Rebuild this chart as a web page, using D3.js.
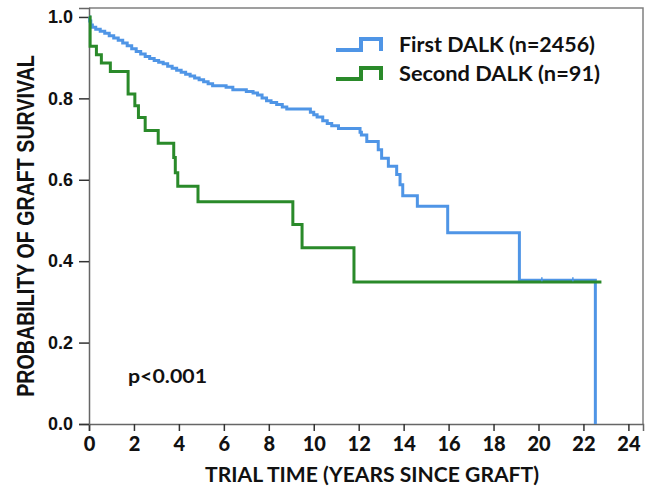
<!DOCTYPE html>
<html>
<head>
<meta charset="utf-8">
<script src="https://cdn.jsdelivr.net/npm/d3@7"></script>
<style>
  body { margin: 0; background: #fff; }
  svg { display: block; }
</style>
</head>
<body>
<svg id="chart" width="646" height="487"></svg>
<script>
// Kaplan-Meier steps: [years, survival]
const firstDalk = [
  [0, 1.0], [0.03, 0.99], [0.08, 0.98], [0.15, 0.975], [0.3, 0.97], [0.5, 0.965],
  [0.7, 0.96], [0.9, 0.954], [1.1, 0.948], [1.3, 0.943], [1.5, 0.936], [1.7, 0.929],
  [1.9, 0.922], [2.1, 0.915], [2.3, 0.909], [2.5, 0.903], [2.7, 0.898], [2.9, 0.893],
  [3.1, 0.889], [3.3, 0.885], [3.5, 0.879], [3.7, 0.874], [3.9, 0.869], [4.1, 0.864],
  [4.3, 0.859], [4.5, 0.855], [4.7, 0.85], [4.9, 0.846], [5.1, 0.841], [5.3, 0.836],
  [5.5, 0.831], [6.1, 0.827], [6.4, 0.821], [7.0, 0.817], [7.3, 0.813], [7.5, 0.808],
  [7.7, 0.801], [7.9, 0.794], [8.1, 0.79], [8.35, 0.785], [8.6, 0.779], [8.8, 0.774],
  [9.85, 0.766], [10.0, 0.76], [10.15, 0.754], [10.4, 0.745], [10.6, 0.738], [10.8, 0.733],
  [11.1, 0.726], [12.06, 0.717], [12.12, 0.71], [12.36, 0.694], [12.87, 0.674], [13.02, 0.653],
  [13.32, 0.633], [13.69, 0.613], [13.84, 0.588], [13.96, 0.561], [14.61, 0.535], [15.96, 0.47],
  [19.15, 0.353], [22.53, 0]
];
const secondDalk = [
  [0, 1.0], [0.05, 0.928], [0.33, 0.907], [0.55, 0.887], [0.95, 0.866], [1.74, 0.811],
  [2.04, 0.782], [2.2, 0.753], [2.5, 0.721], [3.08, 0.690], [3.77, 0.655], [3.84, 0.617],
  [3.95, 0.584], [4.85, 0.546], [9.07, 0.490], [9.48, 0.433], [11.79, 0.349], [22.8, 0.349]
];
const firstCensor = [[20.15, 0.353], [21.53, 0.353]];

const seriesNames = ["First DALK (n=2456)", "Second DALK (n=91)"];
const seriesColors = ["#4f95e6", "#2a8a2a"];
const xTicks = [0, 2, 4, 6, 8, 10, 12, 14, 16, 18, 20, 22, 24];
const yTicks = [0, 0.2, 0.4, 0.6, 0.8, 1.0];
const pText = "p<0.001";

const svg = d3.select("#chart");
const margin = { left: 89, top: 8, right: 3, bottom: 63 };
const W = 646, H = 487;

const x = d3.scaleLinear().domain([0, 24.65]).range([margin.left, W - margin.right]);
const y = d3.scaleLinear().domain([0, 1.022]).range([H - margin.bottom, margin.top]);

// frame (top and right borders)
svg.append("path")
  .attr("d", `M${x(0)},${y(1.022)} H${x(24.65)} V${y(0)}`)
  .attr("fill", "none")
  .attr("stroke", "#808080")
  .attr("stroke-width", 1.5);

// x axis
const xAxis = svg.append("g").attr("transform", `translate(0,${y(0)})`)
  .call(d3.axisBottom(x).tickValues(xTicks).tickSize(7).tickPadding(6).tickFormat(d3.format("d")));
xAxis.select(".domain").attr("stroke", "#666").attr("stroke-width", 1.5);
xAxis.selectAll(".tick line").attr("stroke", "#333").attr("stroke-width", 1.5);
xAxis.selectAll("text")
  .attr("font-family", "Lato, sans-serif")
  .attr("font-weight", "900")
  .attr("font-size", 20)
  .attr("fill", "#111");

// y axis
const yAxis = svg.append("g").attr("transform", `translate(${x(0)},0)`)
  .call(d3.axisLeft(y).tickValues(yTicks).tickSize(10).tickPadding(6).tickFormat(d3.format(".1f")));
yAxis.select(".domain").attr("stroke", "#666").attr("stroke-width", 1.5);
yAxis.selectAll(".tick line").attr("stroke", "#333").attr("stroke-width", 1.5);
yAxis.selectAll("text")
  .attr("font-family", "'Liberation Sans', Arial, sans-serif")
  .attr("font-weight", "bold")
  .attr("font-size", 18)
  .attr("fill", "#111");

// curves
const line = d3.line().x(d => x(d[0])).y(d => y(d[1])).curve(d3.curveStepAfter);
[firstDalk, secondDalk].forEach((s, i) => {
  svg.append("path")
    .datum(s)
    .attr("d", line)
    .attr("fill", "none")
    .attr("stroke", seriesColors[i])
    .attr("stroke-width", 3);
});

// censor marks on first curve
svg.selectAll(".censor")
  .data(firstCensor)
  .enter()
  .append("line")
  .attr("class", "censor")
  .attr("x1", d => x(d[0])).attr("x2", d => x(d[0]))
  .attr("y1", d => y(d[1]) - 3).attr("y2", d => y(d[1]) + 1)
  .attr("stroke", seriesColors[0])
  .attr("stroke-width", 1.5);

// legend
const legend = svg.append("g").attr("transform", "translate(336,50)");
seriesNames.forEach((name, i) => {
  const g = legend.append("g").attr("transform", `translate(0,${i * 29})`);
  g.append("path")
    .attr("d", "M0,0 H25 V-11 H45 V1")
    .attr("fill", "none")
    .attr("stroke", seriesColors[i])
    .attr("stroke-width", 4);
  g.append("text")
    .attr("x", 63).attr("y", 2)
    .attr("font-family", "Lato, sans-serif")
    .attr("font-weight", "bold")
    .attr("font-size", 21)
    .attr("fill", "#111")
    .attr("textLength", i === 0 ? 196 : 201)
    .attr("lengthAdjust", "spacingAndGlyphs")
    .text(name);
});

// p-value
svg.append("text")
  .attr("x", 128).attr("y", 382.5)
  .attr("font-family", "Lato, sans-serif")
  .attr("font-weight", "bold")
  .attr("font-size", 19)
  .attr("fill", "#111")
  .attr("textLength", 79)
  .attr("lengthAdjust", "spacingAndGlyphs")
  .text(pText);

// axis titles
svg.append("text")
  .attr("x", 372).attr("y", 482)
  .attr("text-anchor", "middle")
  .attr("font-family", "Lato, sans-serif")
  .attr("font-weight", "bold")
  .attr("font-size", 21)
  .attr("fill", "#111")
  .attr("textLength", 334)
  .attr("lengthAdjust", "spacingAndGlyphs")
  .text("TRIAL TIME (YEARS SINCE GRAFT)");

// y title: squeeze along its length with a scale so it fits 342px
const yTitle = svg.append("text")
  .attr("text-anchor", "middle")
  .attr("font-family", "'Liberation Sans', Arial, sans-serif")
  .attr("font-weight", "bold")
  .attr("font-size", 23)
  .attr("fill", "#111")
  .text("PROBABILITY OF GRAFT SURVIVAL");
const natural = yTitle.node().getComputedTextLength();
yTitle.attr("transform", `translate(34,226) rotate(-90) scale(${342 / natural},1)`);
</script>
</body>
</html>
